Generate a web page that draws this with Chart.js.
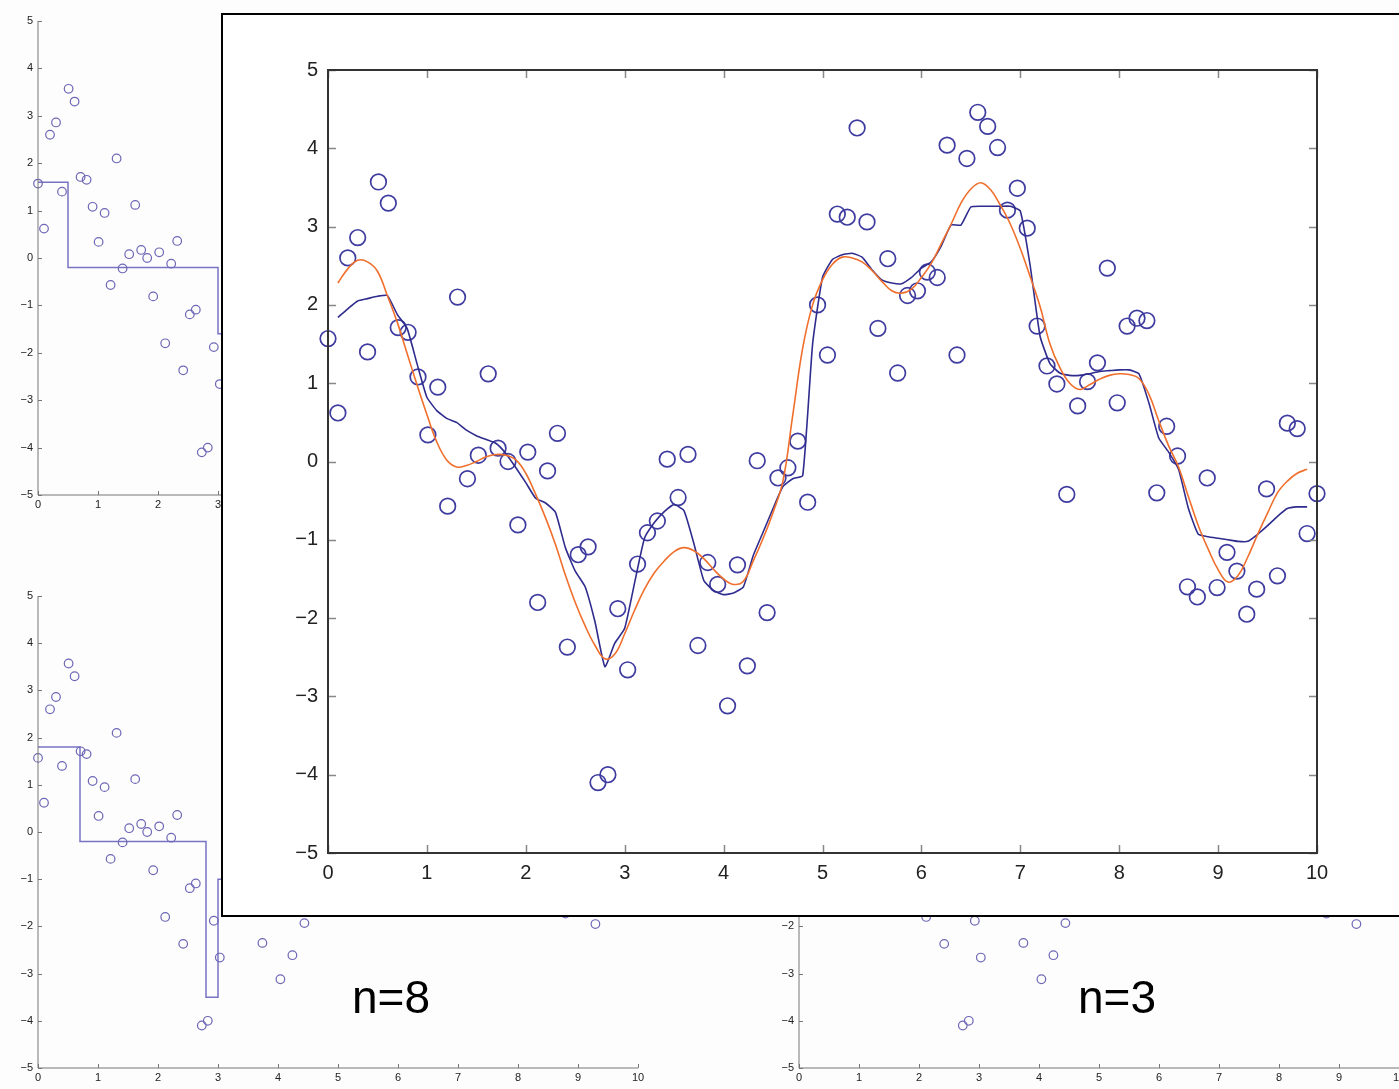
<!DOCTYPE html>
<html>
<head>
<meta charset="utf-8">
<script src="https://cdn.jsdelivr.net/npm/chart.js@4.4.1/dist/chart.umd.min.js"></script>
<style>
  html, body { margin: 0; padding: 0; }
  body { width: 1399px; height: 1089px; overflow: hidden; position: relative; background: #fdfdfd;
         font-family: "Liberation Sans", Arial, sans-serif; }
  canvas { position: absolute; }
  #overlay { position: absolute; left: 221px; top: 13px; width: 1200px; height: 900px;
             border: 2px solid #000; background: #fff; overflow: hidden; }
  .note { position: absolute; font-size: 46px; line-height: 1; color: #000; }
</style>
</head>
<body>
<canvas id="topLeft" width="680" height="530" style="left:0;top:0"></canvas>
<canvas id="botLeft" width="680" height="519" style="left:0;top:570px"></canvas>
<canvas id="botRight" width="680" height="519" style="left:760px;top:570px"></canvas>
<div class="note" style="left:352px;top:974px">n=8</div>
<div class="note" style="left:1078px;top:974px">n=3</div>
<div id="overlay">
  <canvas id="main" width="1176" height="900" style="left:0;top:0"></canvas>
</div>
<script>
// noisy samples
const xVals = [
  0.00, 0.10, 0.20, 0.30, 0.40, 0.51, 0.61, 0.71, 0.81, 0.91,
  1.01, 1.11, 1.21, 1.31, 1.41, 1.52, 1.62, 1.72, 1.82, 1.92,
  2.02, 2.12, 2.22, 2.32, 2.42, 2.53, 2.63, 2.73, 2.83, 2.93,
  3.03, 3.13, 3.23, 3.33, 3.43, 3.54, 3.64, 3.74, 3.84, 3.94,
  4.04, 4.14, 4.24, 4.34, 4.44, 4.55, 4.65, 4.75, 4.85, 4.95,
  5.05, 5.15, 5.25, 5.35, 5.45, 5.56, 5.66, 5.76, 5.86, 5.96,
  6.06, 6.16, 6.26, 6.36, 6.46, 6.57, 6.67, 6.77, 6.87, 6.97,
  7.07, 7.17, 7.27, 7.37, 7.47, 7.58, 7.68, 7.78, 7.88, 7.98,
  8.08, 8.18, 8.28, 8.38, 8.48, 8.59, 8.69, 8.79, 8.89, 8.99,
  9.09, 9.19, 9.29, 9.39, 9.49, 9.60, 9.70, 9.80, 9.90, 10.00
];
const yVals = [
  1.57, 0.62, 2.60, 2.86, 1.40, 3.57, 3.30, 1.71, 1.65, 1.08,
  0.34, 0.95, -0.57, 2.10, -0.22, 0.08, 1.12, 0.17, 0.00, -0.81,
  0.12, -1.80, -0.12, 0.36, -2.37, -1.19, -1.09, -4.10, -4.00, -1.88,
  -2.66, -1.31, -0.91, -0.76, 0.03, -0.46, 0.09, -2.35, -1.29, -1.57,
  -3.12, -1.32, -2.61, 0.01, -1.93, -0.21, -0.08, 0.26, -0.52, 2.00,
  1.36, 3.16, 3.12, 4.26, 3.06, 1.70, 2.59, 1.13, 2.12, 2.18,
  2.42, 2.35, 4.04, 1.36, 3.87, 4.46, 4.28, 4.01, 3.21, 3.49,
  2.98, 1.73, 1.22, 0.99, -0.42, 0.71, 1.02, 1.26, 2.47, 0.75,
  1.73, 1.83, 1.80, -0.40, 0.45, 0.07, -1.60, -1.73, -0.21, -1.61,
  -1.16, -1.40, -1.95, -1.63, -0.35, -1.46, 0.49, 0.42, -0.92, -0.41
];

// smooth curve (orange) and kernel fit (blue) of the big panel
const curveX = [
  0.1, 0.2, 0.3, 0.4, 0.5, 0.6, 0.7, 0.8, 0.9, 1.0,
  1.1, 1.2, 1.3, 1.4, 1.5, 1.6, 1.7, 1.8, 1.9, 2.0,
  2.1, 2.2, 2.3, 2.4, 2.5, 2.6, 2.7, 2.8, 2.9, 3.0,
  3.1, 3.2, 3.3, 3.4, 3.5, 3.6, 3.7, 3.8, 3.9, 4.0,
  4.1, 4.2, 4.3, 4.4, 4.5, 4.6, 4.7, 4.8, 4.9, 5.0,
  5.1, 5.2, 5.3, 5.4, 5.5, 5.6, 5.7, 5.8, 5.9, 6.0,
  6.1, 6.2, 6.3, 6.4, 6.5, 6.6, 6.7, 6.8, 6.9, 7.0,
  7.1, 7.2, 7.3, 7.4, 7.5, 7.6, 7.7, 7.8, 7.9, 8.0,
  8.1, 8.2, 8.3, 8.4, 8.5, 8.6, 8.7, 8.8, 8.9, 9.0,
  9.1, 9.2, 9.3, 9.4, 9.5, 9.6, 9.7, 9.8, 9.9
];
const trueY = [
  2.28, 2.46, 2.57, 2.55, 2.43, 2.12, 1.78, 1.38, 0.98, 0.60,
  0.25, 0.02, -0.07, -0.05, 0.00, 0.06, 0.09, 0.08, 0.02, -0.15,
  -0.42, -0.72, -1.06, -1.45, -1.80, -2.10, -2.35, -2.52, -2.46, -2.20,
  -1.90, -1.63, -1.42, -1.27, -1.15, -1.10, -1.14, -1.24, -1.38, -1.50,
  -1.57, -1.53, -1.27, -0.98, -0.65, -0.25, 0.60, 1.45, 2.00, 2.32,
  2.52, 2.61, 2.60, 2.55, 2.44, 2.30, 2.18, 2.15, 2.20, 2.35,
  2.53, 2.78, 3.03, 3.30, 3.48, 3.56, 3.47, 3.27, 3.03, 2.72,
  2.36, 1.98, 1.50, 1.20, 1.00, 0.92, 0.98, 1.05, 1.10, 1.12,
  1.11, 1.06, 0.86, 0.52, 0.20, -0.07, -0.45, -0.82, -1.12, -1.38,
  -1.54, -1.46, -1.22, -0.93, -0.66, -0.40, -0.25, -0.15, -0.10
];
const fitY = [
  1.84, 1.95, 2.05, 2.08, 2.11, 2.12, 1.88, 1.70, 1.25, 0.82,
  0.65, 0.55, 0.50, 0.40, 0.33, 0.28, 0.23, 0.10, -0.08, -0.27,
  -0.47, -0.53, -0.65, -1.10, -1.40, -1.60, -2.05, -2.62, -2.32, -2.13,
  -1.55, -0.98, -0.78, -0.64, -0.55, -0.63, -1.05, -1.52, -1.65, -1.70,
  -1.68, -1.60, -1.20, -0.90, -0.60, -0.32, -0.22, -0.18, 1.50, 2.35,
  2.58, 2.64, 2.66, 2.61, 2.45, 2.32, 2.28, 2.27, 2.35, 2.47,
  2.55, 2.75, 3.02, 3.02, 3.25, 3.26, 3.26, 3.26, 3.26, 3.20,
  2.50, 1.60, 1.25, 1.13, 1.10, 1.10, 1.12, 1.15, 1.16, 1.17,
  1.17, 1.12, 0.75, 0.30, 0.12, -0.10, -0.60, -0.93, -0.96, -0.98,
  -1.00, -1.02, -1.02, -0.93, -0.82, -0.70, -0.60, -0.58, -0.58
];

// regressogram steps in the small panels (visible part)
const stepTopX = [0, 0.5, 3.0, 3.4];
const stepTopY = [1.6, -0.2, -1.6, -1.6];
const stepBotX = [0, 0.7, 2.8, 3.0, 3.4];
const stepBotY = [1.8, -0.2, -3.5, -1.0, -1.0];

const xTicks = [0, 1, 2, 3, 4, 5, 6, 7, 8, 9, 10];
const yTicks = [-5, -4, -3, -2, -1, 0, 1, 2, 3, 4, 5];

const pts = (xs, ys) => xs.map((x, i) => ({ x: x, y: ys[i] }));
const minus = v => String(v).replace('-', '\u2212');

// frame + inward tick marks, MATLAB style
const frameTicks = {
  id: 'frameTicks',
  afterDraw(chart, args, o) {
    const { ctx, chartArea: a, scales: { x, y } } = chart;
    ctx.save();
    ctx.strokeStyle = o.tickColor;
    ctx.lineWidth = o.tickWidth;
    ctx.beginPath();
    xTicks.forEach(v => {
      const px = Math.round(x.getPixelForValue(v)) + 0.5;
      ctx.moveTo(px, a.bottom); ctx.lineTo(px, a.bottom - o.len);
      if (o.box) { ctx.moveTo(px, a.top); ctx.lineTo(px, a.top + o.len); }
    });
    yTicks.forEach(v => {
      const py = Math.round(y.getPixelForValue(v)) + 0.5;
      ctx.moveTo(a.left, py); ctx.lineTo(a.left + o.len, py);
      if (o.box) { ctx.moveTo(a.right, py); ctx.lineTo(a.right - o.len, py); }
    });
    ctx.stroke();
    ctx.strokeStyle = o.lineColor;
    ctx.lineWidth = o.lineWidth;
    ctx.beginPath();
    if (o.box) {
      ctx.rect(a.left, a.top, a.right - a.left, a.bottom - a.top);
    } else {
      ctx.moveTo(a.left, a.top); ctx.lineTo(a.left, a.bottom); ctx.lineTo(a.right, a.bottom);
    }
    ctx.stroke();
    ctx.restore();
  }
};

function axes(yW, xH, fontSize, xPad, yPad) {
  const tickFont = { family: '"Liberation Sans", Arial, sans-serif', size: fontSize };
  return {
    x: {
      type: 'linear', min: 0, max: 10,
      afterFit(s) { s.height = xH; },
      afterBuildTicks(s) { s.ticks = xTicks.map(v => ({ value: v })); },
      ticks: { font: tickFont, color: '#222', padding: xPad, maxRotation: 0, autoSkip: false, callback: minus },
      grid: { display: false, drawTicks: false },
      border: { display: false }
    },
    y: {
      type: 'linear', min: -5, max: 5,
      afterFit(s) { s.width = yW; },
      afterBuildTicks(s) { s.ticks = yTicks.map(v => ({ value: v })); },
      ticks: { font: tickFont, color: '#222', padding: yPad, autoSkip: false, callback: minus },
      grid: { display: false, drawTicks: false },
      border: { display: false }
    }
  };
}

function smallPanel(id, stepX, stepY, yW, padTop, padRight, xH) {
  const datasets = [{
    type: 'scatter',
    data: pts(xVals, yVals),
    pointStyle: 'circle',
    pointRadius: 4.3,
    pointBorderWidth: 1.2,
    pointBorderColor: '#6d67b6',
    pointBackgroundColor: 'rgba(0,0,0,0)',
    clip: false
  }];
  if (stepX) {
    datasets.push({
      type: 'line',
      data: pts(stepX, stepY),
      stepped: true,
      borderColor: '#7873c2',
      borderWidth: 1.5,
      pointRadius: 0,
      clip: false
    });
  }
  new Chart(document.getElementById(id), {
    type: 'scatter',
    data: { datasets: datasets },
    options: {
      responsive: false,
      animation: false,
      devicePixelRatio: 1,
      layout: { padding: { left: 0, top: padTop, right: padRight, bottom: 0 } },
      scales: axes(yW, xH, 11, 3, 5),
      plugins: {
        legend: { display: false },
        tooltip: { enabled: false },
        frameTicks: { box: false, len: 4, tickColor: '#777', tickWidth: 1, lineColor: '#777', lineWidth: 1 }
      }
    },
    plugins: [frameTicks]
  });
}

smallPanel('topLeft', stepTopX, stepTopY, 38, 21, 42, 35);
smallPanel('botLeft', stepBotX, stepBotY, 38, 26, 42, 21);
smallPanel('botRight', null, null, 39, 26, 41, 21);

new Chart(document.getElementById('main'), {
  type: 'scatter',
  data: {
    datasets: [
      {
        type: 'line',
        label: 'true',
        data: pts(curveX, trueY),
        borderColor: '#f06f2c',
        borderWidth: 1.6,
        pointRadius: 0,
        tension: 0.4
      },
      {
        type: 'line',
        label: 'fit',
        data: pts(curveX, fitY),
        borderColor: '#2f2c8e',
        borderWidth: 1.6,
        pointRadius: 0,
        tension: 0.15
      },
      {
        type: 'scatter',
        label: 'samples',
        data: pts(xVals, yVals),
        pointStyle: 'circle',
        pointRadius: 7.8,
        pointBorderWidth: 1.7,
        pointBorderColor: '#3f3c9f',
        pointBackgroundColor: 'rgba(0,0,0,0)',
        clip: false
      }
    ]
  },
  options: {
    responsive: false,
    animation: false,
    devicePixelRatio: 1,
    layout: { padding: { left: 0, top: 55, right: 82, bottom: 0 } },
    scales: axes(105, 62, 20, 8, 10),
    plugins: {
      legend: { display: false },
      tooltip: { enabled: false },
      frameTicks: { box: true, len: 8, tickColor: '#888', tickWidth: 1.5, lineColor: '#333', lineWidth: 2 }
    }
  },
  plugins: [frameTicks]
});
</script>
</body>
</html>
